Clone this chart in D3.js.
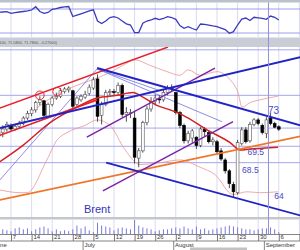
<!DOCTYPE html>
<html><head><meta charset="utf-8">
<script src="https://cdn.jsdelivr.net/npm/d3@7"></script>
<style>body{margin:0;background:#fff}svg{display:block;font-family:"Liberation Sans",Arial,sans-serif}</style>
</head><body>
<svg id="c" width="300" height="250"></svg>
<script>
// ---- data (trading-day index 0 = 2021-06-01) ----
const openP  = [70.0,71.0,71.4,71.8,72.2,71.8,72.1,72.4,73.0,73.5,73.9,74.7,74.9,73.2,74.5,75.2,75.4,75.9,76.1,76.0,74.5,75.0,75.3,75.7,76.3,77.3,73.3,74.5,75.8,75.9,75.8,76.6,73.4,73.6,73.0,68.6,69.4,72.5,74.0,74.8,75.1,75.0,75.8,76.3,75.8,73.6,72.2,70.5,70.8,70.9,70.0,71.8,71.4,70.4,70.4,69.4,68.4,67.2,65.7,64.8,70.2,71.7,70.5,72.3,72.8,72.2,71.3,73.0,72.4,72.05];
const highP  = [71.3,71.8,72.2,72.6,72.4,72.3,72.7,73.2,73.8,74.2,74.9,75.4,75.0,74.7,75.4,75.8,76.3,76.4,76.5,76.1,75.4,75.6,76.0,76.7,77.5,77.8,74.8,76.1,76.2,76.2,76.9,76.8,74.2,74.0,73.8,69.7,72.7,74.3,75.3,75.6,75.5,76.1,76.6,76.7,75.8,73.8,72.4,71.6,71.8,71.0,72.0,72.0,71.6,70.9,70.6,69.7,68.6,67.4,66.0,70.6,72.0,72.0,72.6,73.0,73.0,72.4,73.1,73.5,72.6,72.21];
const lowP   = [69.8,70.7,70.9,71.5,71.5,71.6,71.8,72.2,72.8,73.2,73.6,74.4,73.0,73.0,74.3,75.0,75.2,75.7,75.8,74.1,74.3,74.8,75.1,75.5,76.1,72.6,72.3,74.3,75.5,75.5,75.6,73.1,72.6,73.0,68.0,67.6,69.2,72.2,73.7,74.4,74.6,74.8,75.5,75.9,73.4,71.9,70.2,70.2,70.3,69.6,69.8,71.0,70.2,70.0,69.0,68.3,66.9,65.3,64.3,64.6,70.0,70.2,70.3,72.1,72.2,71.2,70.8,72.2,71.9,71.58];
const closeP = [71.0,71.5,71.8,72.3,71.8,72.1,72.4,73.0,73.5,73.9,74.7,75.0,73.3,74.5,75.2,75.4,76.0,76.2,76.3,74.3,75.2,75.4,75.6,76.4,77.2,73.2,74.5,75.8,75.9,75.8,76.6,73.4,73.6,73.6,68.7,69.4,72.5,74.0,74.8,75.2,75.0,75.8,76.3,76.2,73.6,72.2,70.5,71.3,71.6,70.0,71.8,71.5,70.4,70.6,69.3,68.5,67.2,65.8,64.9,70.3,71.7,70.4,72.3,72.8,72.4,71.4,72.8,72.4,72.0,71.78];
const volume = [3,4,5,4,3,6,7,5,6,3,5,7,8,6,3,5,3,4,3,5,9,6,8,4,2,12,9,8,7,4,6,7,6,5,15,9,7,6,5,3,4,5,5,6,7,6,8,6,5,8,5,6,4,5,6,7,8,9,8,7,6,5,5,4,5,6,6,7,5,2];
const rsi    = [64.2,64.5,65,65.5,62.8,64,65,65.8,66.7,68.3,73.8,65.8,62.8,64.2,69.5,70.8,72.5,73.7,74.2,57.5,59.7,62,64.2,66.7,68.7,50,45.8,50,55.8,57.2,55,50,45.3,43.3,30.5,30.8,46.2,50,51.7,54.5,52.2,54.2,57.2,55.8,52.8,42.5,37.8,40.5,37.5,35,45,44.5,43.3,41.7,40.5,38.3,35.8,29.5,32.2,43.3,53.3,55,50.8,56.2,55.3,54.2,52.8,58.3,56.2,51.7];
const rsiLevels = [70, 30];
// moving average and bands, read at selected day indices
const smaIdx = [1.3,6.9,13.5,20,24.9,29.7,33.6,36,39.4,42.6,45.8,51.6,57.2,59.6,62,65.7,68.8];
const smaVal = [68.2,70.0,72.5,74.2,75.2,75.5,75.8,75.3,74.4,73.9,73.3,71.7,70.3,69.5,69.6,69.7,69.8];
const bbUpIdx = [1.3,5,9.1,14.7,20,24.9,28,31.2,34.1,37.7,41.9,45,47,49.9,54,57.2,59.1,60.1,62,64.4,68.8];
const bbUpVal = [71.7,72.2,73.7,75.5,76.6,77.4,78.0,78.8,79.4,78.8,78.1,77.7,78.3,77.7,78.1,77.2,75.8,74.2,74.7,75.0,75.4];
const bbLoIdx = [1.3,6.2,7.9,12.7,15.2,17.6,22,24.9,28,31.7,35.3,40.2,45,49.9,53.5,57.9,61.3,64.4,68.8];
const bbLoVal = [65.1,64.8,64.8,68.4,70.6,71.4,72.2,72.8,72.2,69.5,67.9,68.1,68.4,67.6,66.8,64.6,64.9,64.8,64.9];
const levels = [80.5, 75.5, 71.9, 69.9, 68.1];
// trend lines [idx1, price1, idx2, price2]
const redLines    = [[1.3,74.1,42.1,80.8],[1.3,71.1,24.9,75.0]];
const blueLines   = [[1.3,71.9,74.2,79.7],[24.9,78.5,74.2,72.2],[27.1,68.1,74.2,62.3]];
const fanLines    = [[1.3,66.2,24.9,78.4],[24.9,78.4,55.2,72.6],[24.9,78.4,40.2,76.0]];
const purpleLines = [[22.4,70.9,53.5,78.5],[26.3,65.0,57.9,72.6]];
const orangeLines = [[1.3,64.0,74.2,71.0]];
const circles = [[11.0,75.5],[15.2,75.9]];
const priceNotes = [{t:"73",i:66.4,p:73.5},{t:"69.5",i:61.4,p:68.95},{t:"68.5",i:60.1,p:67.0},{t:"64",i:67.9,p:64.1}];
const months = [{name:"June",i:0},{name:"July",i:22},{name:"August",i:44},{name:"September",i:66}];
const crossIdx = 66.5;
const headerText = "72.2100, 71.5800, 71.7800, -0.27000)";

// ---- layout ----
const svg = d3.select("#c");
const tradingDays = d3.timeDay.range(new Date(2021,5,1), new Date(2021,8,15)).filter(d => d.getDay()%6 !== 0);
const mondays = tradingDays.map((d,i)=>[d,i]).filter(a=>a[0].getDay()===1).map(a=>a[1]);
const x = d3.scaleLinear().domain([0,80]).range([-5.48,324.1]);
const topP = {y0:2.5,y1:37}, mainP={y0:47,y1:217}, volP={y0:219.5,y1:234};
const yR = d3.scaleLinear().domain([30,70]).range([33,9]);
const y = d3.scaleLinear().domain([62.13,80.81]).range([mainP.y1,mainP.y0]);
const yV = d3.scaleLinear().domain([0,16]).range([volP.y1,volP.y1-15]);

const defs = svg.append("defs");
[["ct",topP],["cm",mainP],["cv",volP]].forEach(([id,p])=>defs.append("clipPath").attr("id",id).append("rect").attr("x",0).attr("y",p.y0).attr("width",300).attr("height",p.y1-p.y0));

svg.append("rect").attr("width",300).attr("height",250).attr("fill","#fff");
svg.append("rect").attr("x",0).attr("y",0).attr("width",300).attr("height",topP.y0).attr("fill","#b9c1cb");
svg.append("rect").attr("x",0).attr("y",topP.y1+0.5).attr("width",300).attr("height",mainP.y0-topP.y1-0.5).attr("fill","#c9ced6");
svg.append("rect").attr("x",0).attr("y",mainP.y1).attr("width",300).attr("height",volP.y0-mainP.y1).attr("fill","#c3c7cd");

// vertical grid
[topP,mainP,volP].forEach(p=>{
  svg.append("g").selectAll("line").data(mondays).join("line")
    .attr("x1",d=>x(d)).attr("x2",d=>x(d)).attr("y1",p.y0).attr("y2",p.y1)
    .attr("stroke","#dadaf2").attr("stroke-width",1);
});

// top panel
const gt = svg.append("g").attr("clip-path","url(#ct)");
gt.selectAll("line.lv").data(rsiLevels).join("line").attr("x1",0).attr("x2",300)
  .attr("y1",d=>yR(d)).attr("y2",d=>yR(d)).attr("stroke","#9c9cec").attr("stroke-width",1);
gt.append("path").datum(rsi).attr("fill","none").attr("stroke","#3a3abf").attr("stroke-width",1.3)
  .attr("d",d3.line().x((d,i)=>x(i)).y(d=>yR(d)));

svg.append("text").attr("x",57).attr("y",44).attr("text-anchor","end").attr("font-size",3.9)
  .attr("fill","#555").text(headerText);

// main panel
const gm = svg.append("g").attr("clip-path","url(#cm)");
gm.selectAll("line.lev").data(levels).join("line").attr("x1",0).attr("x2",300)
  .attr("y1",d=>y(d)).attr("y2",d=>y(d)).attr("stroke","#a5a5f0").attr("stroke-width",1);

const curve = (ix,vals,color,w)=>gm.append("path").datum(ix.map((d,k)=>[d,vals[k]]))
  .attr("fill","none").attr("stroke",color).attr("stroke-width",w)
  .attr("d",d3.line().x(d=>x(d[0])).y(d=>y(d[1])).curve(d3.curveMonotoneX));
curve(bbUpIdx,bbUpVal,"#e99595",0.8);
curve(bbLoIdx,bbLoVal,"#e99595",0.8);

const seg = (arr,color,w)=>gm.append("g").selectAll("line").data(arr).join("line")
  .attr("x1",d=>x(d[0])).attr("y1",d=>y(d[1])).attr("x2",d=>x(d[2])).attr("y2",d=>y(d[3]))
  .attr("stroke",color).attr("stroke-width",w);
seg(fanLines,"#7070e0",0.8);

// candles
const bw = 2.8;
const cg = gm.append("g");
cg.selectAll("line").data(closeP).join("line")
  .attr("x1",(d,i)=>x(i)).attr("x2",(d,i)=>x(i)).attr("y1",(d,i)=>y(highP[i])).attr("y2",(d,i)=>y(lowP[i]))
  .attr("stroke","#222").attr("stroke-width",0.8);
cg.selectAll("rect").data(closeP).join("rect")
  .attr("x",(d,i)=>x(i)-bw/2).attr("width",bw)
  .attr("y",(d,i)=>y(Math.max(openP[i],d))).attr("height",(d,i)=>Math.max(0.8,Math.abs(y(openP[i])-y(d))))
  .attr("fill",(d,i)=>d>=openP[i]?"#fff":"#000").attr("stroke",(d,i)=>d>=openP[i]?"#555":"#000").attr("stroke-width",0.6);

curve(smaIdx,smaVal,"#d42020",1.5);
seg(redLines,"#e8202a",1.6);
seg(orangeLines,"#f07526",1.8);
seg(purpleLines,"#7a22a6",1.4);
seg(blueLines,"#2323c4",1.9);
gm.selectAll("circle").data(circles).join("circle").attr("cx",d=>x(d[0])).attr("cy",d=>y(d[1])).attr("r",4.3)
  .attr("fill","none").attr("stroke","#e32a2a").attr("stroke-width",1);

gm.selectAll("text.note").data(priceNotes).join("text").attr("x",d=>x(d.i)).attr("y",d=>y(d.p))
  .attr("font-size",(d,k)=>k===0?10:8.5).attr("fill","#4848c4").text(d=>d.t);
svg.append("text").attr("x",84).attr("y",213).attr("font-size",11).attr("fill","#3333bb").text("Brent");

// crosshair
svg.append("line").attr("x1",x(crossIdx)).attr("x2",x(crossIdx)).attr("y1",topP.y0).attr("y2",volP.y1)
  .attr("stroke","#8f8fe0").attr("stroke-width",1);

// volume
svg.append("g").attr("clip-path","url(#cv)").selectAll("line").data(volume).join("line")
  .attr("x1",(d,i)=>x(i)).attr("x2",(d,i)=>x(i)).attr("y1",yV(0)).attr("y2",d=>yV(d))
  .attr("stroke","#7a7ada").attr("stroke-width",1);

// axis
const ax = svg.append("g").attr("transform",`translate(0,${volP.y1})`)
  .call(d3.axisBottom(x).tickValues(mondays).tickFormat(i=>tradingDays[i].getDate()).tickSize(7));
ax.select(".domain").remove();
ax.selectAll(".tick line").attr("stroke","#555").attr("stroke-width",0.8);
ax.selectAll(".tick text").attr("x",1.3).attr("y",1).attr("dy","0.72em").attr("text-anchor","start")
  .attr("font-size",6).attr("fill","#333").attr("font-family","Liberation Sans, Arial, sans-serif");
svg.append("line").attr("x1",0).attr("x2",300).attr("y1",volP.y1+0.5).attr("y2",volP.y1+0.5).attr("stroke","#666").attr("stroke-width",0.8);
svg.append("line").attr("x1",0).attr("x2",300).attr("y1",241).attr("y2",241).attr("stroke","#666").attr("stroke-width",0.8);
const mg = svg.append("g");
mg.selectAll("line").data(months).join("line").attr("x1",d=>x(d.i-0.5)).attr("x2",d=>x(d.i-0.5))
  .attr("y1",241).attr("y2",250).attr("stroke","#666").attr("stroke-width",0.8);
mg.selectAll("text").data(months).join("text").attr("x",d=>x(d.i-0.5)+1.3).attr("y",247)
  .attr("font-size",6).attr("fill","#333").text(d=>d.name);
svg.append("rect").attr("x",190).attr("y",247.5).attr("width",57).attr("height",2.5).attr("fill","#c2c2c2");
</script>
</body></html>
